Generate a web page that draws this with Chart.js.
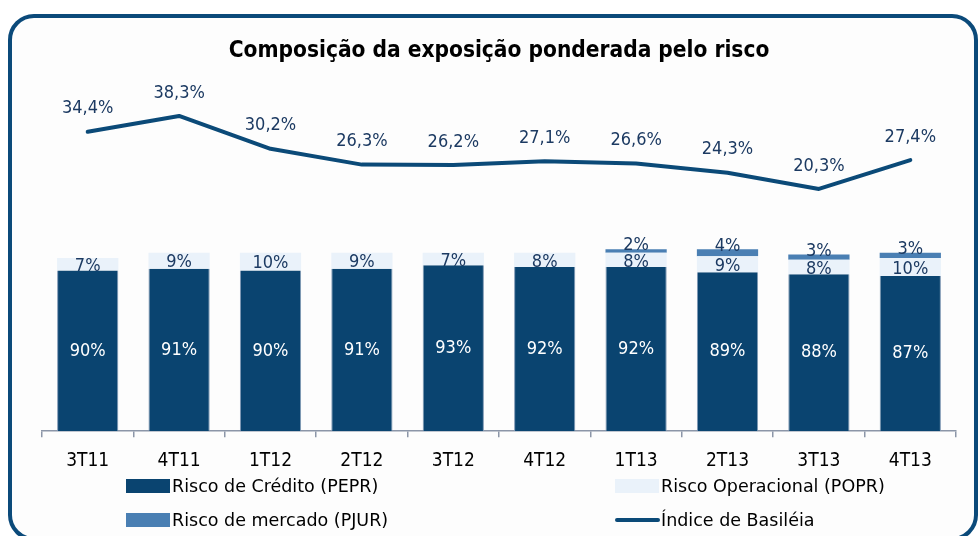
<!DOCTYPE html>
<html><head><meta charset="utf-8">
<script src="https://cdn.jsdelivr.net/npm/chart.js@4.4.1/dist/chart.umd.min.js"></script>
<style>
html,body{margin:0;padding:0;background:#fff;}
#wrap{position:relative;width:979px;height:536px;overflow:hidden;background:#fff;}
#frame{position:absolute;left:8px;top:14px;width:970px;height:527px;box-sizing:border-box;border:4px solid #0b4a7a;border-radius:26px;background:#fdfdfd;}
canvas{position:absolute;left:0;top:0;}
.lg{position:absolute;font-family:"DejaVu Sans",sans-serif;font-size:17.5px;color:#000;white-space:nowrap;line-height:20px;}
.sw{position:absolute;}
</style></head><body>
<div id="wrap"><div id="frame"></div><canvas id="c" width="979" height="536"></canvas><div id="legend"></div></div>
<script>
const categories = ['3T11','4T11','1T12','2T12','3T12','4T12','1T13','2T13','3T13','4T13'];
const creditValues = [90,91,90,91,93,92,92,89,88,87];
const operValues = [7,9,10,9,7,8,8,9,8,10];
const marketValues = [null,null,null,null,null,null,2,4,3,3];
const basileiaValues = [34.4,38.3,30.2,26.3,26.2,27.1,26.6,24.3,20.3,27.4];
const seriesNames = ['Risco de Crédito (PEPR)','Risco Operacional (POPR)','Risco de mercado (PJUR)','Índice de Basiléia'];

const FONT = '"DejaVu Sans Condensed","DejaVu Sans",sans-serif';
const C_CREDIT = '#0a4470', C_OPER = '#eaf2fa', C_MARKET = '#4a7fb3', C_LINE = '#0b4a78', C_LBL = '#1c3a62';

const labelPlugin = {
  id: 'valueLabels',
  afterDatasetsDraw(chart) {
    const ctx = chart.ctx;
    ctx.save();
    ctx.textAlign = 'center';
    ctx.textBaseline = 'middle';
    chart.data.datasets.forEach((ds, di) => {
      const meta = chart.getDatasetMeta(di);
      meta.data.forEach((el, i) => {
        const v = ds.data[i];
        if (v === null || v === undefined) return;
        if (ds.type === 'line') {
          ctx.fillStyle = C_LBL;
          ctx.font = '18px ' + FONT;
          ctx.fillText(v.toFixed(1).replace('.', ',') + '%', el.x, el.y - 23);
        } else {
          const cy = (el.y + el.base) / 2;
          ctx.font = '18px ' + FONT;
          ctx.fillStyle = di === 0 ? '#ffffff' : C_LBL;
          const off = di === 2 ? -6 : (di === 1 ? 2 : 0);
          ctx.fillText(v + '%', el.x, cy + off);
        }
      });
    });
    ctx.restore();
  }
};

const chart = new Chart(document.getElementById('c'), {
  data: {
    labels: categories,
    datasets: [
      {type:'bar', label: seriesNames[0], data: creditValues, backgroundColor: C_CREDIT, borderColor:'#7f98b4', borderWidth:{left:1,right:1,top:0,bottom:0}, yAxisID:'y', order:2, barPercentage:0.67, categoryPercentage:1},
      {type:'bar', label: seriesNames[1], data: operValues, backgroundColor: C_OPER, borderWidth:0, yAxisID:'y', order:2, barPercentage:0.67, categoryPercentage:1},
      {type:'bar', label: seriesNames[2], data: marketValues, backgroundColor: C_MARKET, borderWidth:0, yAxisID:'y', order:2, barPercentage:0.67, categoryPercentage:1},
      {type:'line', label: seriesNames[3], data: basileiaValues, borderColor: C_LINE, backgroundColor: C_LINE, borderWidth:4, pointRadius:0, tension:0, yAxisID:'y2', order:1, borderCapStyle:'round', borderJoinStyle:'round'}
    ]
  },
  options: {
    responsive:false, animation:false,
    layout:{padding:{left:42,right:23,top:20,bottom:52}},
    plugins:{
      legend:{display:false},
      tooltip:{enabled:false},
      title:{display:true, text:'Composição da exposição ponderada pelo risco', color:'#000', font:{family:FONT, size:22.5, weight:'bold'}, padding:{top:18,bottom:36}}
    },
    scales:{
      x:{stacked:true, grid:{display:true, offset:true, drawOnChartArea:false, drawTicks:true, tickLength:6, color:'#8c96a8', lineWidth:1.5},
         border:{display:true, color:'#8c96a8', width:1.5},
         ticks:{color:'#000', font:{family:FONT, size:19}, padding:12, maxRotation:0, autoSkip:false}},
      y:{stacked:true, display:false, min:0, max:185},
      y2:{display:false, min:-39.5, max:42}
    }
  },
  plugins:[labelPlugin]
});

// HTML legend built from datasets
(function(){
  const lg = document.getElementById('legend');
  const pos = [[126,486],[615,486],[126,520],[615,520]];
  chart.data.datasets.forEach((ds, i) => {
    const [x, y] = pos[i];
    const sw = document.createElement('div');
    sw.className = 'sw';
    if (ds.type === 'line') {
      sw.style.cssText = 'left:'+x+'px;top:'+(y-2)+'px;width:45px;height:4px;border-radius:2px;background:'+ds.borderColor;
    } else {
      sw.style.cssText = 'left:'+x+'px;top:'+(y-7)+'px;width:44px;height:14px;background:'+ds.backgroundColor;
    }
    lg.appendChild(sw);
    const t = document.createElement('div');
    t.className = 'lg';
    t.textContent = ds.label;
    t.style.left = (x + 46) + 'px';
    t.style.top = (y - 10) + 'px';
    lg.appendChild(t);
  });
})();
</script>
</body></html>
